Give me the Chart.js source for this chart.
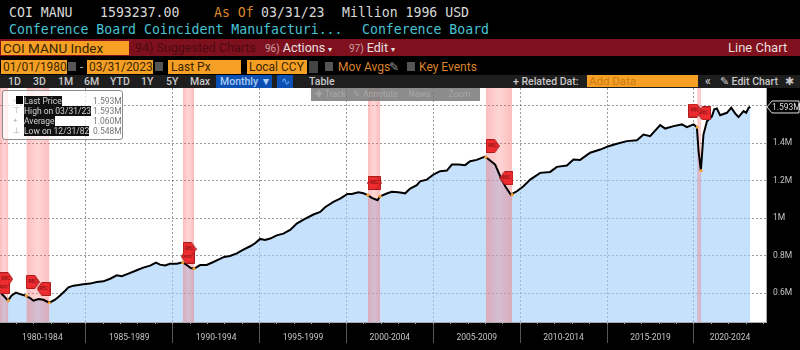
<!DOCTYPE html>
<html>
<head>
<meta charset="utf-8">
<title>COI MANU</title>
<script src="https://cdn.jsdelivr.net/npm/chart.js@4"></script>
<style>
html, body { margin: 0; padding: 0; background: #000; width: 800px; height: 350px; overflow: hidden; }
#chartCanvas { position: absolute; left: 0; top: 88px; }
.t { position: absolute; white-space: pre; }
.mono { font: 13.2px "DejaVu Sans Mono", monospace; top: 5px; color: #d8d8d8; }
.cyan { color: #46c3d3; top: 22px; }
.bar { position: absolute; }
.ui { font: 11.5px "Roboto", sans-serif; color: #d8d8d8; }
.field { position: absolute; background: #f5a024; color: #3a2400; font: 12px "Roboto", sans-serif; line-height: 14px; height: 14px; padding-left: 2px; box-sizing: border-box; white-space: pre; }
.tab { position: absolute; top: 75px; font: 500 10.5px "Roboto", sans-serif; line-height: 13px; color: #c8c8c8; white-space: pre; }
.orange { color: #d9832b; font: 12px "Roboto", sans-serif; top: 60px; }
.box { position: absolute; top: 62px; width: 8px; height: 9px; background: #555; }
.tool { position: absolute; top: 88px; height: 13px; background: rgba(120,120,120,0.85); color: #a8a8a8; font: 8.5px "Roboto", sans-serif; line-height: 13px; text-align: center; border-right: 1px solid #8c8c8c; box-sizing: border-box; }
#legendBox { position: absolute; left: 2px; top: 90px; width: 121px; height: 50px; box-sizing: border-box; border: 1px solid #8a8a8a; border-radius: 3px; background: rgba(255,255,255,0.72); }
.lg { position: absolute; left: 21px; background: #111; color: #d0d0d0; font: 8.5px "Roboto", sans-serif; line-height: 10px; height: 10px; white-space: pre; }
.lv { position: absolute; left: 90px; color: #777; font: 8.5px "Roboto", sans-serif; line-height: 10px; white-space: pre; }
.li { position: absolute; left: 10px; color: #aaa; font: 8px "Roboto", sans-serif; line-height: 10px; }
</style>
</head>
<body>
<!-- header lines -->
<div class="t mono" style="left:9px">COI MANU</div>
<div class="t mono" style="left:100px">1593237.00</div>
<div class="t mono" style="left:214px;color:#d9832b">As Of</div>
<div class="t mono" style="left:261px">03/31/23</div>
<div class="t mono" style="left:342px">Million 1996 USD</div>
<div class="t mono cyan" style="left:9px">Conference Board Coincident Manufacturi...</div>
<div class="t mono cyan" style="left:362px">Conference Board</div>

<!-- red bar -->
<div class="bar" style="left:0;top:39px;width:800px;height:17px;background:#7f101d"></div>
<div class="field" style="left:1px;top:41px;width:128px;font-size:13.5px">COI MANU Index</div>
<div class="t" style="left:135px;top:39px;font:12.5px/17px Roboto,sans-serif;color:#4d0a12">94) Suggested Charts</div>
<div class="t" style="left:265px;top:39px;font:12.5px/17px Roboto,sans-serif;color:#e8e0e0"><span style="font-size:10px;color:#c9a0a5">96)</span> Actions <span style="font-size:8px">▾</span></div>
<div class="t" style="left:349px;top:39px;font:12.5px/17px Roboto,sans-serif;color:#e8e0e0"><span style="font-size:10px;color:#c9a0a5">97)</span> Edit <span style="font-size:8px">▾</span></div>
<div class="t" style="left:728px;top:39px;font:13px/17px Roboto,sans-serif;color:#e8dcdc">Line Chart</div>

<!-- date row -->
<div class="field" style="left:1px;top:60px;width:66px">01/01/1980</div>
<div class="box" style="left:68px"></div>
<div class="t ui" style="left:80px;top:60px">-</div>
<div class="field" style="left:87px;top:60px;width:66px">03/31/2023</div>
<div class="box" style="left:155px"></div>
<div class="field" style="left:168px;top:60px;width:73px;padding-left:3px">Last Px</div>
<div class="field" style="left:247px;top:60px;width:60px">Local CCY</div>
<div class="box" style="left:309px;width:9px;top:61px;height:12px;background:#444"></div>
<div class="box" style="left:325px"></div>
<div class="t orange" style="left:338px">Mov Avgs</div>
<div class="t ui" style="left:389px;top:60px;color:#999">✎</div>
<div class="box" style="left:407px"></div>
<div class="t orange" style="left:419px">Key Events</div>

<!-- tab row -->
<div class="bar" style="left:0;top:75px;width:800px;height:13px;background:#1e1e1e"></div>
<div class="tab" style="left:8px">1D</div>
<div class="tab" style="left:33px">3D</div>
<div class="tab" style="left:58px">1M</div>
<div class="tab" style="left:84px">6M</div>
<div class="tab" style="left:110px">YTD</div>
<div class="tab" style="left:141px">1Y</div>
<div class="tab" style="left:166px">5Y</div>
<div class="tab" style="left:190px">Max</div>
<div class="bar" style="left:216px;top:75px;width:56px;height:13px;background:#0b4fb3"></div>
<div class="tab" style="left:220px;color:#a9cdf5">Monthly ▼</div>
<div class="bar" style="left:277px;top:75px;width:16px;height:13px;background:#0b4fb3"></div>
<div class="tab" style="left:281px;color:#6fa8ee">∿</div>
<div class="tab" style="left:309px">Table</div>
<div class="tab" style="left:513px">+ Related Dat:</div>
<div class="field" style="left:587px;top:75px;width:111px;height:12px;line-height:12px;font-size:11.5px;color:#c97a12">Add Data</div>
<div class="tab" style="left:705px;font-size:12px">«</div>
<div class="tab" style="left:720px">✎ Edit Chart</div>
<div class="tab" style="left:785px;font-size:11px">✱</div>

<canvas id="chartCanvas" width="800" height="262"></canvas>

<!-- chart tool strip -->
<div class="tool" style="left:311px;width:40px">✚ Track</div>
<div class="tool" style="left:351px;width:50px">✎ Annotate</div>
<div class="tool" style="left:401px;width:38px">News</div>
<div class="tool" style="left:439px;width:41px;border:0">Zoom</div>

<!-- legend box -->
<div id="legendBox">
  <div class="li" style="top:5px">▫</div><div class="bar" style="left:13px;top:5px;width:7px;height:8px;background:#000"></div>
  <div class="lg" style="top:5px">Last Price</div><div class="lv" style="top:5px">1.593M</div>
  <div class="li" style="top:15px">⊤</div>
  <div class="lg" style="top:15px">High on 03/31/23</div><div class="lv" style="top:15px">1.593M</div>
  <div class="li" style="top:25px">+</div>
  <div class="lg" style="top:25px">Average</div><div class="lv" style="top:25px">1.060M</div>
  <div class="li" style="top:35px">⊥</div>
  <div class="lg" style="top:35px">Low on 12/31/82</div><div class="lv" style="top:35px">0.548M</div>
</div>

<script>
// values (years, millions)
var lineYears = [
  1980.06,1980.25,1980.52,1980.73,1980.98,1981.21,1981.50,1981.79,1981.98,1982.27,1982.56,1982.90,
  1983.23,1983.52,1983.81,1984.00,1984.29,1984.57,1984.86,1985.24,1985.63,1986.01,1986.40,1986.78,
  1987.07,1987.45,1987.93,1988.31,1988.70,1989.04,1989.27,1989.56,1989.85,1990.23,1990.58,1990.81,
  1991.04,1991.23,1991.58,1991.96,1992.34,1992.63,1992.96,1993.30,1993.69,1994.07,1994.46,1994.74,
  1995.03,1995.32,1995.61,1995.99,1996.37,1996.76,1997.14,1997.53,1998.10,1998.49,1998.77,1999.25,
  1999.64,2000.06,2000.31,2000.69,2000.98,2001.23,2001.46,2001.79,2001.94,2002.32,2002.61,2002.99,
  2003.38,2003.67,2004.05,2004.24,2004.63,2005.01,2005.39,2005.78,2006.07,2006.45,2006.83,2007.12,
  2007.50,2007.98,2008.27,2008.56,2008.85,2009.14,2009.46,2009.81,2010.19,2010.58,2011.15,2011.73,
  2012.11,2012.69,2013.07,2013.45,2014.03,2014.61,2015.09,2015.57,2016.14,2016.72,2017.10,2017.48,
  2018.06,2018.35,2018.83,2019.31,2019.60,2019.98,2020.17,2020.27,2020.40,2020.55,2020.75,2021.03,
  2021.17,2021.32,2021.51,2021.90,2022.15,2022.38,2022.57,2022.86,2023.01,2023.15,2023.25
];
var lineValues = [
  0.607,0.589,0.561,0.589,0.604,0.596,0.589,0.575,0.561,0.570,0.566,0.550,
  0.566,0.589,0.614,0.632,0.641,0.644,0.648,0.652,0.660,0.664,0.678,0.696,
  0.691,0.705,0.723,0.737,0.748,0.764,0.753,0.749,0.758,0.758,0.765,0.751,
  0.735,0.732,0.751,0.751,0.767,0.780,0.794,0.799,0.813,0.833,0.851,0.867,
  0.890,0.884,0.892,0.909,0.918,0.938,0.972,0.993,1.020,1.034,1.059,1.087,
  1.105,1.130,1.130,1.139,1.133,1.123,1.109,1.096,1.117,1.132,1.141,1.139,
  1.133,1.158,1.176,1.197,1.206,1.233,1.251,1.254,1.286,1.286,1.283,1.304,
  1.311,1.329,1.308,1.286,1.224,1.171,1.126,1.144,1.171,1.206,1.242,1.247,
  1.274,1.281,1.313,1.311,1.349,1.366,1.384,1.397,1.411,1.416,1.446,1.437,
  1.496,1.478,1.491,1.500,1.485,1.500,1.485,1.357,1.254,1.446,1.517,1.541,
  1.580,1.585,1.549,1.562,1.589,1.558,1.539,1.571,1.562,1.589,1.593
];
var recStarts = [1980.06, 1981.58, 1990.58, 2001.23, 2008.02, 2020.19];
var recEnds = [1980.54, 1982.90, 1991.23, 2001.94, 2009.54, 2020.42];
var recDotYears = [1980.06,1980.54,1981.58,1982.90,1990.58,1991.23,2001.23,2001.94,2008.02,2009.54,2020.19,2020.42];
var recDotValues = [0.607,0.561,0.587,0.550,0.765,0.732,1.123,1.117,1.325,1.126,1.485,1.254];
var flagStartYears = [1980.41, 1981.95, 1990.97, 2001.62, 2008.42, 2020.07];
var flagStartValues = [0.676, 0.661, 0.836, 1.188, 1.385, 1.574];
var flagEndYears = [1980.24, 1982.57, 1990.87, 2001.60, 2009.21, 2020.59];
var flagEndValues = [0.633, 0.624, 0.796, 1.188, 1.214, 1.559];
var periodLabels = ['1980-1984','1985-1989','1990-1994','1995-1999','2000-2004','2005-2009','2010-2014','2015-2019','2020-2024'];
var fiveYearTicks = [1985, 1990, 1995, 2000, 2005, 2010, 2015, 2020];
var yTicks = [0.6, 0.8, 1, 1.2, 1.4, 1.6];
var xMin = 1980.06, xMax = 2024.15;
var yMin = 0.4475, yMax = 1.694;

function pts(xs, ys) {
    return xs.map(function(x, i) { return { x: x, y: ys[i] }; });
}

// little REC flag used as point style
function makeFlag(pointRight) {
    var c = document.createElement('canvas');
    c.width = 14;
    c.height = 14;
    var g = c.getContext('2d');
    g.beginPath();
    if (pointRight) {
        g.moveTo(0.5, 0.5); g.lineTo(9, 0.5); g.lineTo(13.5, 7); g.lineTo(9, 13.5); g.lineTo(0.5, 13.5);
    } else {
        g.moveTo(13.5, 0.5); g.lineTo(5, 0.5); g.lineTo(0.5, 7); g.lineTo(5, 13.5); g.lineTo(13.5, 13.5);
    }
    g.closePath();
    g.fillStyle = '#ee2b2f';
    g.fill();
    g.strokeStyle = '#a81c1c';
    g.stroke();
    g.fillStyle = '#6a1010';
    g.font = '5px "Roboto"';
    g.textAlign = 'center';
    g.textBaseline = 'middle';
    g.fillText('REC', 7, 7);
    return c;
}

function bandColor(i) {
    return function(context) {
        var x = context.chart.scales.x;
        var x0 = x ? x.getPixelForValue(recStarts[i]) : NaN;
        var x1 = x ? x.getPixelForValue(recEnds[i]) : NaN;
        // scale is not laid out yet on the first pass
        if (!isFinite(x0) || !isFinite(x1)) return 'rgba(250,90,90,0.3)';
        var grad = context.chart.ctx.createLinearGradient(x0, 0, x1, 0);
        grad.addColorStop(0, 'rgba(250,90,90,0.4)');
        grad.addColorStop(0.5, 'rgba(250,90,90,0.25)');
        grad.addColorStop(1, 'rgba(250,90,90,0.4)');
        return grad;
    };
}

var datasets = [{
    label: 'area',
    data: pts(lineYears, lineValues),
    order: 5,
    borderWidth: 0,
    pointRadius: 0,
    fill: 'start',
    backgroundColor: 'rgba(160,205,248,0.6)'
}, {
    label: 'Last Price',
    data: pts(lineYears, lineValues),
    order: 3,
    borderColor: '#000',
    borderWidth: 2,
    pointRadius: 0,
    fill: false
}, {
    label: 'rec dots',
    data: pts(recDotYears, recDotValues),
    order: 2,
    showLine: false,
    pointRadius: 1.6,
    pointBorderWidth: 0,
    pointBackgroundColor: '#f0a030'
}, {
    label: 'rec start',
    data: pts(flagStartYears, flagStartValues),
    order: 1,
    showLine: false,
    pointStyle: makeFlag(true)
}, {
    label: 'rec end',
    data: pts(flagEndYears, flagEndValues),
    order: 1,
    showLine: false,
    pointStyle: makeFlag(false)
}];

recStarts.forEach(function(start, i) {
    datasets.push({
        label: 'recession ' + i,
        data: pts([start, recEnds[i]], [yMax, yMax]),
        order: 4,
        borderWidth: 0,
        pointRadius: 0,
        fill: 'start',
        backgroundColor: bandColor(i)
    });
});

var axisFont = { family: 'Roboto, sans-serif', size: 8.5 };

// white plot background and the last price tag on the axis
var plotPlugin = {
    id: 'plotPlugin',
    beforeDraw: function(chart) {
        var a = chart.chartArea;
        chart.ctx.fillStyle = '#fff';
        chart.ctx.fillRect(a.left, a.top, a.right - a.left, a.bottom - a.top);
    },
    afterDraw: function(chart) {
        var g = chart.ctx;
        var y = chart.scales.y.getPixelForValue(lineValues[lineValues.length - 1]);
        var x = chart.chartArea.right + 1;
        g.save();
        g.beginPath();
        g.moveTo(x, y);
        g.lineTo(x + 5, y - 6);
        g.lineTo(x + 32, y - 6);
        g.lineTo(x + 32, y + 6);
        g.lineTo(x + 5, y + 6);
        g.closePath();
        g.fillStyle = '#000';
        g.fill();
        g.strokeStyle = '#ddd';
        g.lineWidth = 1;
        g.stroke();
        g.fillStyle = '#ddd';
        g.font = axisFont.size + 'px ' + axisFont.family;
        g.textBaseline = 'middle';
        g.fillText('1.593M', x + 5, y + 0.5);
        g.restore();
    }
};

var myChart = new Chart(document.getElementById('chartCanvas'), {
    type: 'line',
    data: { datasets: datasets },
    plugins: [plotPlugin],
    options: {
        responsive: false,
        animation: false,
        layout: { padding: 0, autoPadding: false },
        plugins: { legend: { display: false }, tooltip: { enabled: false } },
        scales: {
            x: {
                type: 'linear',
                position: 'bottom',
                weight: -3,
                min: xMin,
                max: xMax,
                afterBuildTicks: function(scale) {
                    scale.ticks = fiveYearTicks.map(function(v) { return { value: v }; });
                },
                afterFit: function(scale) { scale.height = 0; },
                ticks: { display: false, autoSkip: false },
                grid: { color: 'rgba(90,90,90,0.6)', tickColor: '#555', tickLength: 21, tickWidth: 1 },
                border: { color: '#aaa', dash: [2, 2] }
            },
            xYears: {
                type: 'linear',
                position: 'bottom',
                weight: -2,
                min: xMin,
                max: xMax,
                afterBuildTicks: function(scale) {
                    var list = [];
                    lineYears.forEach(function(v) {
                        var yr = Math.ceil(v);
                        if (list.indexOf(yr) < 0) list.push(yr);
                    });
                    list.push(2024);
                    scale.ticks = list.map(function(v) { return { value: v }; });
                },
                afterFit: function(scale) { scale.height = 0; },
                ticks: { display: false, autoSkip: false },
                grid: { drawOnChartArea: false, tickColor: '#aaa', tickLength: 2 },
                border: { display: false }
            },
            xLabels: {
                type: 'linear',
                position: 'bottom',
                weight: -1,
                min: xMin,
                max: xMax,
                afterBuildTicks: function(scale) {
                    scale.ticks = periodLabels.map(function(lab) {
                        var start = parseInt(lab);
                        var mid = start + 2.5;
                        if (start + 5 > xMax) mid = (start + xMax) / 2;
                        return { value: mid };
                    });
                },
                afterFit: function(scale) {
                    scale.height = 28;
                    scale.paddingLeft = 0;
                    scale.paddingRight = 0;
                },
                ticks: {
                    autoSkip: false,
                    maxRotation: 0,
                    padding: 11,
                    color: '#c4c4c4',
                    font: axisFont,
                    callback: function(value, index) { return periodLabels[index]; }
                },
                grid: { display: false, drawTicks: false },
                border: { display: false }
            },
            y: {
                position: 'right',
                min: yMin,
                max: yMax,
                afterBuildTicks: function(scale) {
                    scale.ticks = yTicks.map(function(v) { return { value: v }; });
                },
                afterFit: function(scale) {
                    scale.width = 34;
                    // tick padding would otherwise push the plot top down
                    scale.paddingTop = 0;
                    scale.paddingBottom = 0;
                },
                ticks: {
                    color: '#c4c4c4',
                    font: axisFont,
                    padding: 7,
                    crossAlign: 'near',
                    callback: function(value) {
                        if (value > 1.5) return '';
                        return value + 'M';
                    }
                },
                grid: { color: 'rgba(90,90,90,0.6)', drawTicks: false },
                border: { color: '#aaa', dash: [2, 2] }
            }
        }
    }
});
</script>
</body>
</html>
